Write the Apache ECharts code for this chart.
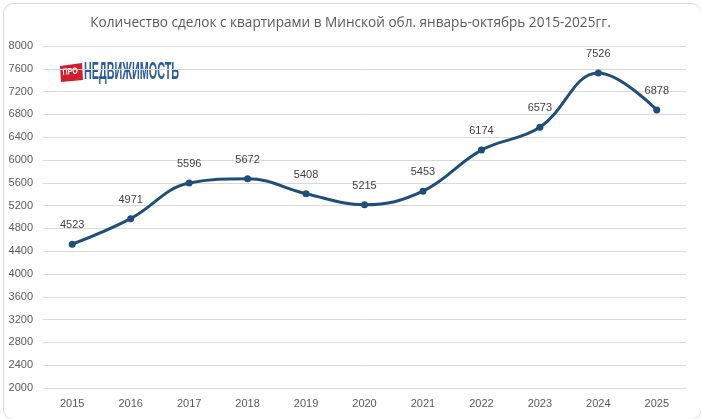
<!DOCTYPE html>
<html><head><meta charset="utf-8">
<script src="https://cdn.jsdelivr.net/npm/echarts@6/dist/echarts.min.js"></script>
<style>html,body{margin:0;padding:0;background:#fff}#c{width:701px;height:419px}</style>
</head><body><div id="c"></div>
<script>
const categories = ['2015','2016','2017','2018','2019','2020','2021','2022','2023','2024','2025'];
const deals = [4523, 4971, 5596, 5672, 5408, 5215, 5453, 6174, 6573, 7526, 6878];
const titleText = 'Количество сделок с квартирами в Минской обл. январь-октябрь 2015-2025гг.';
const logoText = 'НЕДВИЖИМОСТЬ';

const logoFont = 'bold 23px "Liberation Sans"';
const cv = document.createElement('canvas').getContext('2d');
cv.font = logoFont;
const logoW = cv.measureText(logoText).width;
const logoScale = 95 / logoW;

const chart = echarts.init(document.getElementById('c'));
chart.setOption({
  animation: false,
  backgroundColor: '#fff',
  title: {
    text: titleText, left: 'center', top: 11,
    textStyle: {fontFamily: 'Open Sans', fontSize: 13.6, fontWeight: 'normal', color: '#595959'}
  },
  grid: {left: 43, right: 15, top: 46, bottom: 31, containLabel: false},
  xAxis: {
    type: 'category', data: categories, boundaryGap: true,
    axisLine: {show: false}, axisTick: {show: false},
    axisLabel: {fontFamily: 'Liberation Sans', fontSize: 11, color: '#595959', margin: 10}
  },
  yAxis: {
    type: 'value', min: 2000, max: 8000, interval: 400,
    axisLine: {show: false}, axisTick: {show: false},
    axisLabel: {fontFamily: 'Liberation Sans', fontSize: 11, color: '#595959', margin: 10, formatter: v => String(v)},
    splitLine: {lineStyle: {color: '#d9d9d9', width: 1}}
  },
  series: [{
    type: 'line', data: deals, smooth: 0.4,
    symbol: 'circle', symbolSize: 7,
    lineStyle: {color: '#1f4e79', width: 3},
    itemStyle: {color: '#1f4e79'},
    label: {show: true, position: 'top', distance: 10, fontFamily: 'Liberation Sans', fontSize: 11, color: '#404040'}
  }],
  graphic: [
    {type: 'rect', left: 1, top: 1, shape: {width: 698, height: 416, r: 10}, style: {fill: 'none', stroke: '#d9d9d9', lineWidth: 1}, silent: true},
    {type: 'polygon', shape: {points: [[60,66],[82,63],[83,80],[61,82]]}, style: {fill: '#d0202e'}},
    {type: 'text', x: 62, y: 68, rotation: 0.1, scaleX: 0.8, style: {text: 'ПРО', fill: '#fff', fontFamily: 'Liberation Sans', fontWeight: 'bold', fontSize: 9}},
    {type: 'text', x: 84, y: 61, scaleX: logoScale, style: {text: logoText, fill: '#2a5b9a', fontFamily: 'Liberation Sans', fontWeight: 'bold', fontSize: 23}}
  ]
});
</script></body></html>
